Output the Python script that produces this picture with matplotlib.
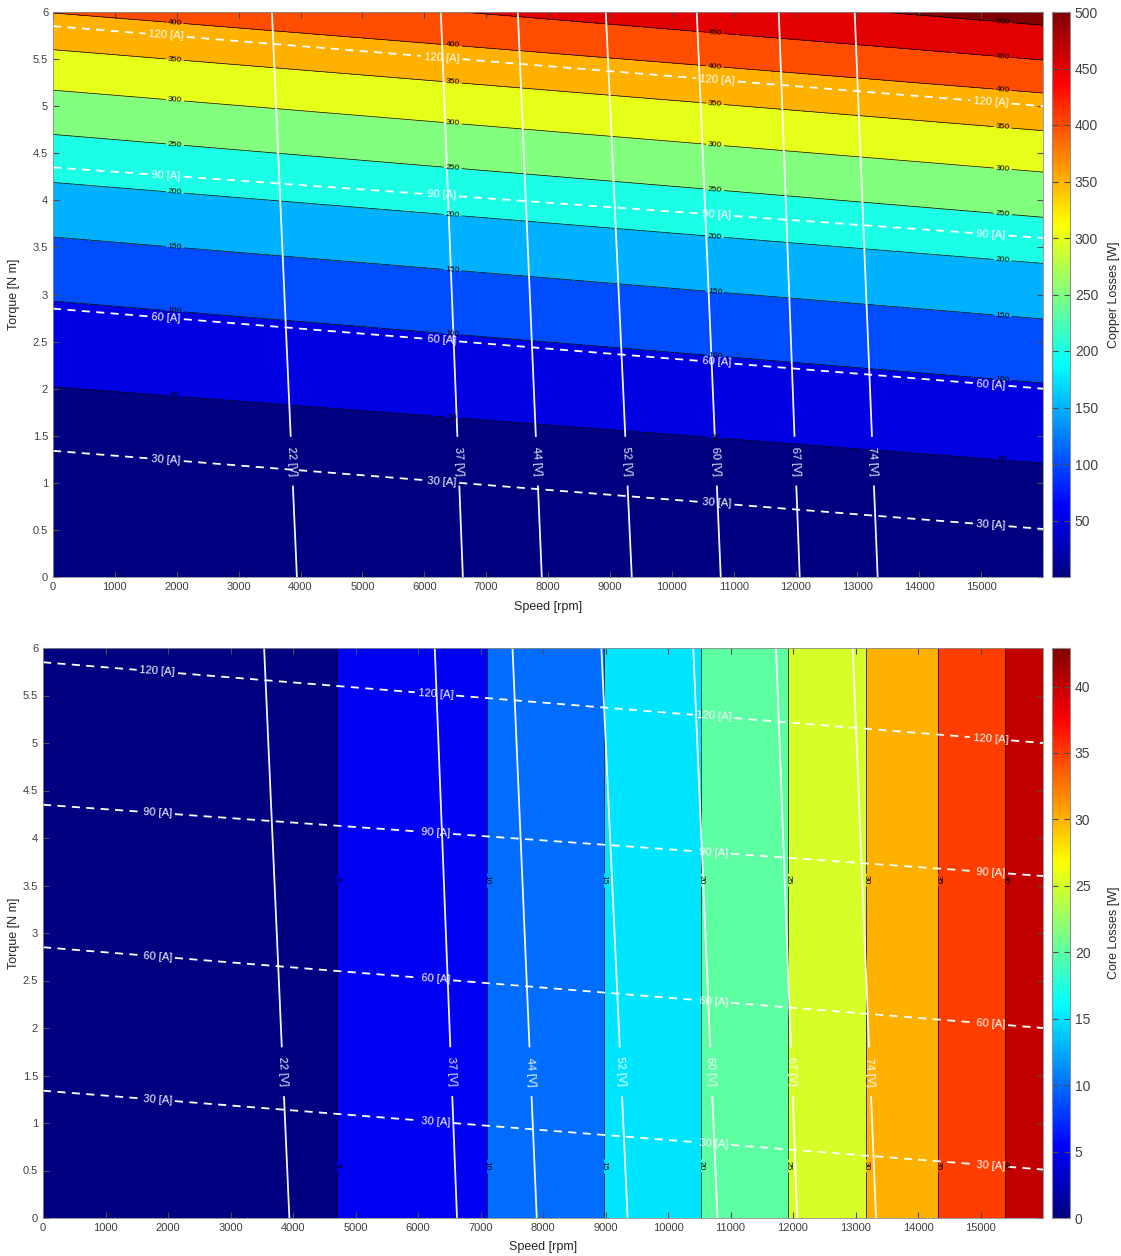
import numpy as np
import matplotlib
matplotlib.use("Agg")
import matplotlib.pyplot as plt
from matplotlib.colors import LinearSegmentedColormap, Normalize
from matplotlib.cm import ScalarMappable
from matplotlib.ticker import FormatStrFormatter, MultipleLocator

plt.rcParams["font.family"] = ["Liberation Sans", "DejaVu Sans"]

SPEED_MAX = 16000
TORQUE_MAX = 6

# copper loss iso-lines [W]: torque [N m] where each level meets 0 rpm / 16000 rpm
copper_levels = [0, 50, 100, 150, 200, 250, 300, 350, 400, 450, 500, 550]
copper_T_lo = [-0.15, 2.02, 2.93, 3.61, 4.19, 4.70, 5.17, 5.60, 5.99, 6.36, 6.72, 7.06]
copper_T_hi = [-0.91, 1.21, 2.06, 2.74, 3.33, 3.82, 4.30, 4.74, 5.14, 5.49, 5.86, 6.20]

# core loss iso-lines [W]: speed [rpm] of each level (independent of torque)
core_levels = [0, 5, 10, 15, 20, 25, 30, 35, 40, 42.9]
core_speed = [0, 4704, 7104, 8976, 10528, 11920, 13168, 14320, 15392, 16000]

# phase current iso-lines [A]: torque at 0 rpm / 16000 rpm
amp_levels = [0, 30, 60, 90, 120, 150]
amp_T_lo = [-0.16, 1.34, 2.85, 4.35, 5.85, 7.35]
amp_T_hi = [-0.99, 0.51, 2.00, 3.60, 5.00, 6.50]

# voltage iso-lines [V]: speed at 0 N m / 6 N m
volt_levels = [0, 22, 37, 44, 52, 60, 67, 74, 90]
volt_speed_lo = [0, 3942, 6624, 7900, 9354, 10792, 12068, 13328, 16000]
volt_speed_hi = [0, 3538, 6268, 7512, 8934, 10404, 11729, 12956, 16000]

# MATLAB style jet
jet = LinearSegmentedColormap.from_list(
    "jet_m",
    [(0.0, (0, 0, 0.5)), (0.125, (0, 0, 1)), (0.375, (0, 1, 1)),
     (0.625, (1, 1, 0)), (0.875, (1, 0, 0)), (1.0, (0.5, 0, 0))])

label_cols = [1970, 6460, 10700, 15350]
amp_label_cols = [1830, 6280, 10730, 15160]


def rows_grid(levels, t_lo, t_hi):
    """Curvilinear grid: one row per iso-level, spanning 0..SPEED_MAX."""
    n = len(levels)
    X = np.tile([0.0, SPEED_MAX], (n, 1))
    Y = np.column_stack([t_lo, t_hi])
    Z = np.column_stack([levels, levels]).astype(float)
    return X, Y, Z


def cols_grid(levels, s_lo, s_hi):
    """Curvilinear grid: one column per iso-level, spanning 0..TORQUE_MAX."""
    X = np.vstack([s_lo, s_hi]).astype(float)
    Y = np.vstack([np.zeros(len(levels)), np.full(len(levels), TORQUE_MAX)])
    Z = np.vstack([levels, levels]).astype(float)
    return X, Y, Z


def on_row(level, levels, t_lo, t_hi, n):
    i = levels.index(level)
    return t_lo[i] + (t_hi[i] - t_lo[i]) * n / SPEED_MAX


def on_col(level, levels, s_lo, s_hi, t):
    i = levels.index(level)
    return s_lo[i] + (s_hi[i] - s_lo[i]) * t / TORQUE_MAX


def style_axes(ax):
    ax.set_xlim(0, SPEED_MAX)
    ax.set_ylim(0, TORQUE_MAX)
    ax.xaxis.set_major_locator(MultipleLocator(1000))
    ax.yaxis.set_major_locator(MultipleLocator(0.5))
    ax.set_xticks(np.arange(0, 15001, 1000))
    ax.yaxis.set_major_formatter(FormatStrFormatter("%g"))
    ax.tick_params(direction="in", top=True, right=True, length=4,
                   labelsize=8, colors="0.3", labelcolor="0.25")
    for sp in ax.spines.values():
        sp.set_color("0.55")
        sp.set_linewidth(0.6)


def overlay_amps_volts(ax, volt_t):
    X, Y, Z = rows_grid(amp_levels, amp_T_lo, amp_T_hi)
    cs = ax.contour(X, Y, Z, levels=amp_levels[1:-1], colors="white",
                    linewidths=1.3)
    cs.set_linestyle((0, (4.5, 3.5)))
    pos = [(n, on_row(a, amp_levels, amp_T_lo, amp_T_hi, n))
           for a in amp_levels[1:-1] for n in amp_label_cols]
    ax.clabel(cs, fmt="%d [A]", manual=pos, inline=True, fontsize=8,
              colors="white", inline_spacing=3)

    X, Y, Z = cols_grid(volt_levels, volt_speed_lo, volt_speed_hi)
    cv = ax.contour(X, Y, Z, levels=volt_levels[1:-1], colors="white",
                    linewidths=1.3, alpha=0.95)
    pos = [(on_col(v, volt_levels, volt_speed_lo, volt_speed_hi, volt_t), volt_t)
           for v in volt_levels[1:-1]]
    ax.clabel(cv, fmt="%d [V]", manual=pos, inline=True, fontsize=8,
              colors="white", inline_spacing=3)


fig = plt.figure(figsize=(11.21, 12.56), dpi=100)
W, H = 1121, 1256


def px_axes(x0, y0, x1, y1):
    return fig.add_axes([x0 / W, 1 - y1 / H, (x1 - x0) / W, (y1 - y0) / H])


# ---- copper losses ----
ax1 = px_axes(53, 12, 1043, 577)
cax1 = px_axes(1052, 12, 1070, 577)
cu_max = 500
X, Y, Z = rows_grid(copper_levels, copper_T_lo, copper_T_hi)
cu_colors = [jet(min(lv / cu_max, 1.0)) for lv in copper_levels[:-1]]
ax1.contourf(X, Y, Z, levels=copper_levels, colors=cu_colors)
cl = ax1.contour(X, Y, Z, levels=copper_levels[1:-1], colors="k",
                 linewidths=0.5)
pos = []
for lv in copper_levels[1:-1]:
    for n in label_cols:
        t = on_row(lv, copper_levels, copper_T_lo, copper_T_hi, n)
        if 0.05 < t < 5.95:
            pos.append((n, t))
ax1.clabel(cl, fmt="%d", manual=pos, inline=True, fontsize=6, colors="k",
           inline_spacing=2)
overlay_amps_volts(ax1, 1.23)
style_axes(ax1)
ax1.set_xlabel("Speed [rpm]", fontsize=9, color="0.15")
ax1.xaxis.set_label_coords(0.5, -0.042)
ax1.set_ylabel("Torque [N m]", fontsize=9, color="0.15")
ax1.yaxis.set_label_coords(-0.033, 0.5)

cb1 = fig.colorbar(ScalarMappable(Normalize(0, cu_max), jet), cax=cax1)
cb1.set_ticks(np.arange(50, 501, 50))
cb1.ax.tick_params(direction="in", length=4, labelsize=10, left=True,
                   right=True, colors="0.3", labelcolor="0.25")
cb1.outline.set_edgecolor("0.55")
cb1.set_label("Copper Losses [W]", fontsize=9, color="0.15")
cb1.ax.yaxis.set_label_coords(3.1, 0.5)

# ---- core losses ----
ax2 = px_axes(43, 648, 1043, 1218)
cax2 = px_axes(1052, 648, 1070, 1218)
fe_max = core_levels[-1]
fe_bounds = [0, 5, 10, 15, 20, 25, 30, 35, 40, 45]
X, Y, Z = cols_grid(core_levels, core_speed, core_speed)
fe_colors = [jet(lv / fe_max) for lv in fe_bounds[:-1]]
ax2.contourf(X, Y, Z, levels=fe_bounds, colors=fe_colors)
cf = ax2.contour(X, Y, Z, levels=fe_bounds[1:-1], colors="k", linewidths=0.5)
pos = [(s, t) for s in core_speed[1:-1] for t in (3.56, 0.55)]
ax2.clabel(cf, fmt="%d", manual=pos, inline=True, fontsize=6, colors="k",
           inline_spacing=2)
overlay_amps_volts(ax2, 1.54)
style_axes(ax2)
ax2.set_xlabel("Speed [rpm]", fontsize=9, color="0.15")
ax2.xaxis.set_label_coords(0.5, -0.040)
ax2.set_ylabel("Torque [N m]", fontsize=9, color="0.15")
ax2.yaxis.set_label_coords(-0.023, 0.5)

cb2 = fig.colorbar(ScalarMappable(Normalize(0, fe_max), jet), cax=cax2)
cb2.set_ticks(np.arange(0, 41, 5))
cb2.ax.tick_params(direction="in", length=4, labelsize=10, left=True,
                   right=True, colors="0.3", labelcolor="0.25")
cb2.outline.set_edgecolor("0.55")
cb2.set_label("Core Losses [W]", fontsize=9, color="0.15")
cb2.ax.yaxis.set_label_coords(3.1, 0.5)

fig.savefig("out.png", dpi=100)
